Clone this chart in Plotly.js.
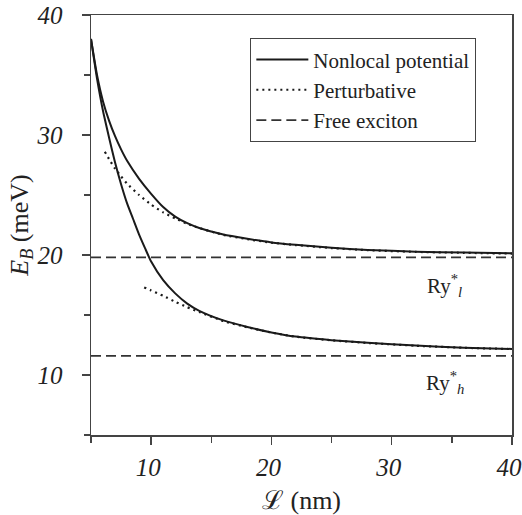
<!DOCTYPE html>
<html>
<head>
<meta charset="utf-8">
<script src="https://cdn.plot.ly/plotly-3.0.1.min.js"></script>
<style>html,body{margin:0;padding:0;background:#fff;}</style>
</head>
<body>
<div id="chart" style="width:522px;height:515px;"></div>
<script>
// Nonlocal potential, light-hole (upper) branch
const nlUpperX = [5, 5.5, 6, 6.5, 7, 7.5, 8, 9, 10, 11, 12, 13, 14, 16, 18, 20, 22, 25, 28, 32, 36, 40];
const nlUpperY = [38, 35.0, 32.8, 31.2, 29.9, 28.8, 27.85, 26.35, 25.1, 24.0, 23.2, 22.65, 22.25, 21.7, 21.35, 21.05, 20.85, 20.6, 20.42, 20.28, 20.2, 20.14];
// Nonlocal potential, heavy-hole (lower) branch
const nlLowerX = [5, 5.5, 6, 6.5, 7, 7.5, 8, 8.5, 9, 9.5, 10, 11, 12, 13, 14, 16, 18, 20, 22, 25, 28, 32, 36, 40];
const nlLowerY = [38, 34.7, 32.0, 29.8, 27.7, 25.9, 24.3, 23.0, 21.7, 20.55, 19.45, 17.9, 16.8, 15.95, 15.35, 14.55, 14.0, 13.55, 13.2, 12.9, 12.68, 12.45, 12.28, 12.17];
// Perturbative
const ptUpperX = [6.15, 6.5, 7, 7.5, 8, 9, 10, 11, 12, 13, 14, 16, 18, 20, 22, 25, 28, 32, 36, 40];
const ptUpperY = [28.6, 28.0, 27.2, 26.55, 25.95, 25.0, 24.2, 23.55, 23.05, 22.6, 22.25, 21.68, 21.32, 21.03, 20.83, 20.58, 20.4, 20.26, 20.18, 20.12];
const ptLowerX = [9.42, 10, 11, 12, 13, 14, 16, 18, 20, 22, 25, 28, 32, 36, 40];
const ptLowerY = [17.3, 17.05, 16.6, 16.1, 15.65, 15.25, 14.5, 13.98, 13.54, 13.19, 12.89, 12.67, 12.44, 12.27, 12.16];
// Free exciton (Rydberg) levels
const freeX = [5, 40];
const freeLightY = 19.8;
const freeHeavyY = 11.6;
// Labels
const levelLabels = ['Ry<sup>*</sup><sub><i>l</i></sub>', 'Ry<sup>*</sup><sub><i>h</i></sub>'];
const levelLabelX = [34.4, 34.4];
const levelLabelY = [17.5, 9.4];
const tickVals = [10, 20, 30, 40];
const legendNames = ['Nonlocal potential', 'Perturbative', 'Free exciton'];

const serif = 'Liberation Serif, Times New Roman, serif';
const dark = '#1a1a1a';

const traces = [
  {x: nlUpperX, y: nlUpperY, mode: 'lines', name: legendNames[0], legendgroup: 'a',
   line: {color: dark, width: 2, shape: 'spline', smoothing: 0.5}},
  {x: nlLowerX, y: nlLowerY, mode: 'lines', name: legendNames[0], legendgroup: 'a', showlegend: false,
   line: {color: dark, width: 2, shape: 'spline', smoothing: 0.5}},
  {x: ptUpperX, y: ptUpperY, mode: 'lines', name: legendNames[1], legendgroup: 'b',
   line: {color: dark, width: 2.2, dash: '2px,4px', shape: 'spline', smoothing: 0.5}},
  {x: ptLowerX, y: ptLowerY, mode: 'lines', name: legendNames[1], legendgroup: 'b', showlegend: false,
   line: {color: dark, width: 2.2, dash: '2px,4px', shape: 'spline', smoothing: 0.5}},
  {x: freeX, y: freeX.map(() => freeLightY), mode: 'lines', name: legendNames[2], legendgroup: 'c',
   line: {color: '#333', width: 1.8, dash: '10px,5px'}},
  {x: freeX, y: freeX.map(() => freeHeavyY), mode: 'lines', name: legendNames[2], legendgroup: 'c', showlegend: false,
   line: {color: '#333', width: 1.8, dash: '10px,5px'}}
];

const axisCommon = {
  showgrid: false, zeroline: false,
  showline: true, linecolor: '#444', linewidth: 1.5, mirror: true,
  ticks: 'outside', ticklen: 8, tickwidth: 1.5, tickcolor: '#444',
  tickvals: tickVals,
  ticklabeloverflow: 'allow',
  tickfont: {family: serif, size: 25, style: 'italic', color: '#222'},
  minor: {dtick: 5, tick0: 5, ticks: 'outside', ticklen: 6, tickwidth: 1.5, tickcolor: '#444', showgrid: false}
};

const layout = {
  width: 522, height: 515,
  margin: {l: 91, r: 10, t: 15, b: 80},
  paper_bgcolor: '#fff', plot_bgcolor: '#fff',
  showlegend: true,
  legend: {
    x: 0.378, y: 0.945, xanchor: 'left', yanchor: 'top',
    bordercolor: '#444', borderwidth: 1.2, bgcolor: '#fff',
    font: {family: serif, size: 21, color: '#222'},
    itemwidth: 52, tracegroupgap: 0
  },
  xaxis: Object.assign({}, axisCommon, {
    range: [5, 40],
    ticklabelstandoff: 1,
    ticklabelshift: -3,
    title: {text: 'ℒ (nm)', font: {family: serif, size: 26, color: '#222'}, standoff: 13}
  }),
  yaxis: Object.assign({}, axisCommon, {
    range: [5, 40],
    ticklabelstandoff: 14,
    title: {text: '<i>E</i><sub><i>B</i></sub> (meV)', font: {family: serif, size: 26, color: '#222'}, standoff: 0}
  }),
  annotations: levelLabels.map((t, i) => ({
    x: levelLabelX[i], y: levelLabelY[i], xref: 'x', yref: 'y',
    text: t, showarrow: false,
    font: {family: serif, size: 21, color: '#222'}
  }))
};

Plotly.newPlot('chart', traces, layout, {displayModeBar: false, staticPlot: true});
</script>
</body>
</html>
